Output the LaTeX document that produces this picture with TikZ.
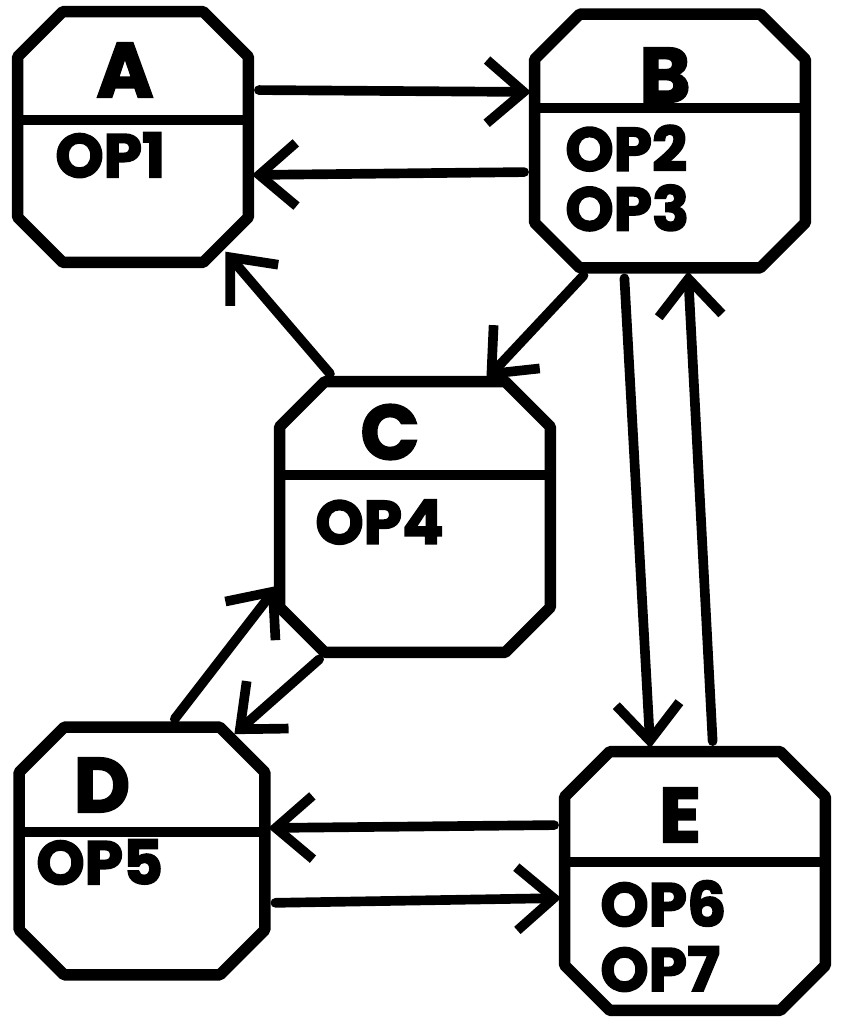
\documentclass[tikz,border=0pt]{standalone}
\usepackage{fontspec}
\setmainfont{Poppins}[BoldFeatures={FakeBold=2.5}]
\usetikzlibrary{arrows.meta}
\begin{document}
\begin{tikzpicture}[x=0.02cm,y=-0.02cm,
      octbox/.style={rectangle,draw=none,inner sep=0pt},
      octline/.style={line width=6.5pt,line join=round},
      divider/.style={line width=5.5pt},
      title/.style={font=\fontsize{44}{50}\selectfont\bfseries,inner sep=0pt},
      ops/.style={font=\fontsize{35}{34}\selectfont\bfseries,anchor=west,
                  align=left,inner sep=0pt},
      flow/.style={-{Straight Barb[length=21pt,width=36pt]},line width=5.5pt,
                   line cap=round,shorten <=6pt,shorten >=2pt}]
    \useasboundingbox (0,0) rectangle (841,1017);
    % classes
    \foreach \b/\x/\y/\w/\h in {A/133/137/4.6/5.0,B/670/141/5.4/5.06,
        C/415/517/5.4/5.4,D/142/851/4.9/4.94,E/695/881/5.2/5.16}{%
      \node[octbox,minimum width=\w cm,minimum height=\h cm] (\b) at (\x,\y) {};
      \draw[octline] ([xshift=0.9cm]\b.north west) -- ([xshift=-0.9cm]\b.north east)
        -- ([yshift=-0.9cm]\b.north east) -- ([yshift=0.9cm]\b.south east)
        -- ([xshift=-0.9cm]\b.south east) -- ([xshift=0.9cm]\b.south west)
        -- ([yshift=0.9cm]\b.south west) -- ([yshift=-0.9cm]\b.north west) -- cycle;
    }
    \foreach \b/\y in {A/120,B/108,C/475,D/832,E/862}{%
      \draw[divider] (\b.west |- 0,\y) -- (\b.east |- 0,\y);
    }
    \node[title] (tA) at (125,70) {A};
    \node[title] (tB) at (665,75) {B};
    \node[title] (tC) at (390,432) {C};
    \node[title] (tD) at (102,785) {D};
    \node[title] (tE) at (680,815) {E};
    \node[ops] (opsA) at (55,155) {OP1};
    \node[ops] (opsB) at (565,178) {OP2\\OP3};
    \node[ops] (opsC) at (315,522) {OP4};
    \node[ops] (opsD) at (36,862) {OP5};
    \node[ops,font=\fontsize{35}{37}\selectfont\bfseries] (opsE) at (600,936)
      {OP6\\OP7};

    % messages
    \draw[flow] (A.east |- 0,90) -- (B.west |- 0,92);
    \draw[flow] (B.west |- 0,172) -- (A.east |- 0,175);
    \draw[flow] (B.238) -- (C.63);
    \draw[flow,shorten >=-8pt] (C.120) -- (A.309);
    \draw[flow] (B.250) -- (E.109);
    \draw[flow] (E.82) -- (B.278);
    \draw[flow] (D.78) -- (C.206);
    \draw[flow,shorten >=-6pt] (C.237) -- (D.51);
    \draw[flow] (E.west |- 0,825) -- (D.east |- 0,828);
    \draw[flow] (D.east |- 0,903) -- (E.west |- 0,898);
  \end{tikzpicture}
\end{document}
